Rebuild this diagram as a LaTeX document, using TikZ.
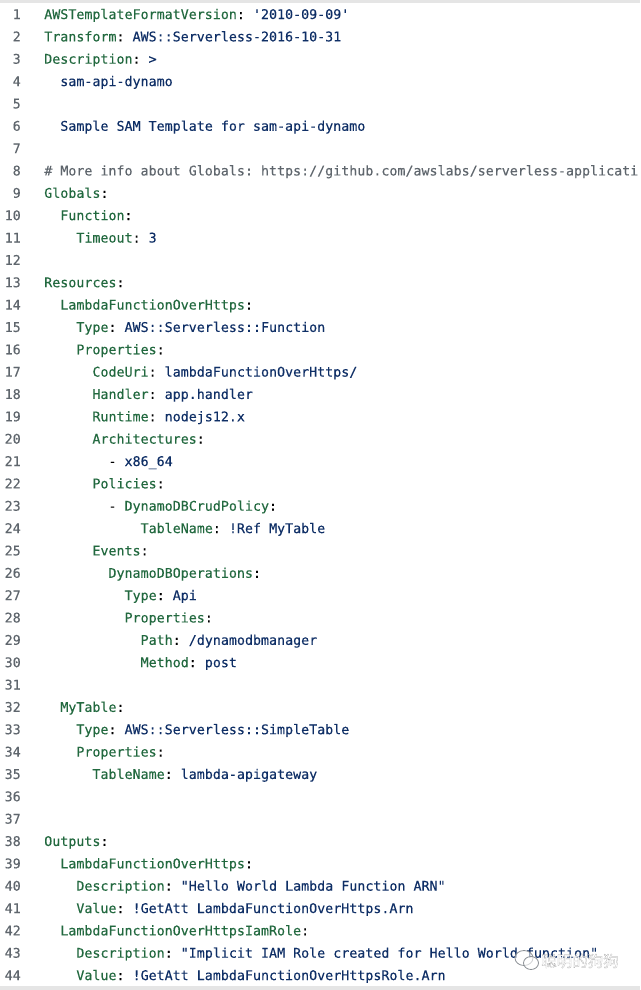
\documentclass[tikz,border=0pt]{standalone}
\usepackage{fontspec}
\setmonofont[RawFeature={embolden=0.25}]{DejaVu Sans Mono}
\newfontfamily\cjk{Noto Sans CJK SC}
\usepackage{xcolor}
\definecolor{keygreen}{HTML}{22693F}
\definecolor{valnavy}{HTML}{0F2F66}
\definecolor{numgray}{HTML}{5F666D}
\definecolor{markgray}{HTML}{8A8F94}
\tikzset{
  code/.style={anchor=base west,inner sep=0pt,font=\ttfamily\frenchspacing},
  num/.style={anchor=base east,inner sep=0pt,font=\ttfamily,text=numgray},
  band/.style={fill=black!10,draw=none},
}
\newcommand{\Key}[1]{\textcolor{keygreen}{#1}}
\newcommand{\Val}[1]{\textcolor{valnavy}{#1}}

\begin{document}
\begin{tikzpicture}
  [x=.75pt,y=-.75pt]
  \useasboundingbox (0,0) rectangle (640,990);
  \fill[white] (0,0) rectangle (640,990);
  \fill[band] (0,0) rectangle (640,3);
  \fill[band] (0,986) rectangle (640,990);

  \foreach \n in {1,...,44}
    \node[num] (num\n) at (21,{19+22.35*(\n-1)}) {\n};

  % line / indent / key / value
  \foreach \n/\ind/\key/\val in {
    1/0/AWSTemplateFormatVersion/'2010-09-09',
    2/0/Transform/AWS::Serverless-2016-10-31,
    3/0/Description/>,
    9/0/Globals/,
    10/2/Function/,
    11/4/Timeout/3,
    13/0/Resources/,
    14/2/LambdaFunctionOverHttps/,
    15/4/Type/AWS::Serverless::Function,
    16/4/Properties/,
    17/6/CodeUri/{lambdaFunctionOverHttps/},
    18/6/Handler/app.handler,
    19/6/Runtime/nodejs12.x,
    20/6/Architectures/,
    22/6/Policies/,
    24/12/TableName/!Ref MyTable,
    25/6/Events/,
    26/8/DynamoDBOperations/,
    27/10/Type/Api,
    28/10/Properties/,
    29/12/Path/{/dynamodbmanager},
    30/12/Method/post,
    32/2/MyTable/,
    33/4/Type/AWS::Serverless::SimpleTable,
    34/4/Properties/,
    35/6/TableName/lambda-apigateway,
    38/0/Outputs/,
    39/2/LambdaFunctionOverHttps/,
    40/4/Description/"Hello World Lambda Function ARN",
    41/4/Value/!GetAtt LambdaFunctionOverHttps.Arn,
    42/2/LambdaFunctionOverHttpsIamRole/,
    43/4/Description/"Implicit IAM Role created for Hello World function",
    44/4/Value/!GetAtt LambdaFunctionOverHttpsRole.Arn}
    \node[code] (line\n) at ({44+8.03*\ind},{19+22.35*(\n-1)}) {\Key{\key}:\ \Val{\val}};

  % lines without a key
  \node[code] (line4) at ({44+8.03*2},{19+22.35*3}) {\Val{sam-api-dynamo}};
  \node[code] (line6) at ({44+8.03*2},{19+22.35*5}) {\Val{Sample SAM Template for sam-api-dynamo}};
  \node[code,text=numgray] (line8) at (44,{19+22.35*7}) {\# More info about Globals: https://github.com/awslabs/serverless-applicati};
  \node[code] (line21) at ({44+8.03*8},{19+22.35*20}) {- \Val{x86\_64}};
  \node[code] (line23) at ({44+8.03*8},{19+22.35*22}) {- \Key{DynamoDBCrudPolicy}:};

  % watermark
  \draw[markgray,line width=.6pt,fill=white,fill opacity=.6] (524,958) ellipse (9 and 7.5);
  \draw[markgray,line width=.6pt,fill=white,fill opacity=.6] (531,963) ellipse (7.5 and 6.5);
  \node[inner sep=0pt,font=\cjk\fontsize{11.6}{14}\selectfont,text=white] (markname) at (580,961)
    {\special{pdf:code 2 Tr 0.1 w 0.6 G}聪明的狗狗};
\end{tikzpicture}
\end{document}
